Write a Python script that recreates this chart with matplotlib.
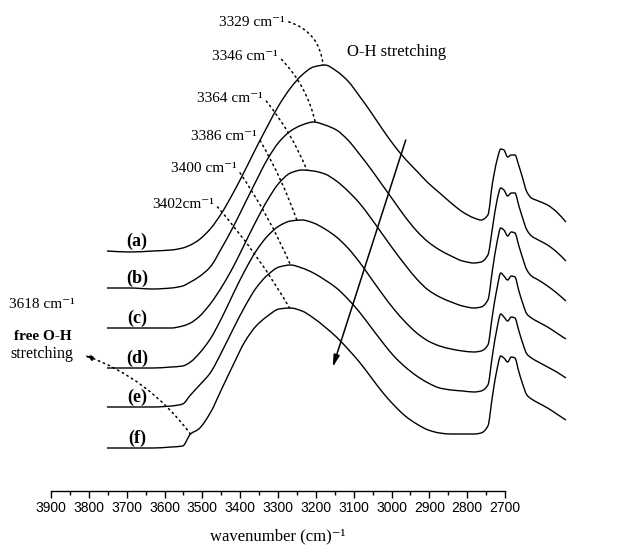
import matplotlib
matplotlib.use('Agg')
import matplotlib.pyplot as plt
from matplotlib.path import Path
from matplotlib.patches import PathPatch
from matplotlib.ticker import MultipleLocator
import numpy as np

plt.rcParams['font.family'] = ['Liberation Serif', 'DejaVu Serif']

# wavenumber grid (cm-1) and absorbance (relative to its own baseline)
wavenumber = [3800, 3750, 3700, 3660, 3635, 3618, 3600, 3575, 3550, 3525, 3500, 3475,
              3450, 3425, 3400, 3375, 3350, 3325, 3300, 3275, 3250, 3225, 3200, 3175,
              3150, 3125, 3100, 3075, 3050, 3025, 3000, 2985, 2970, 2960, 2950, 2942,
              2935, 2927, 2919, 2911, 2903, 2895, 2885, 2875, 2860, 2840, 2820, 2800]

abs_a = [0.00, -0.01, 0.00, 0.01, 0.03, 0.06, 0.11, 0.22, 0.38, 0.58, 0.80, 1.03,
         1.25, 1.46, 1.63, 1.76, 1.84, 1.86, 1.80, 1.70, 1.55, 1.39, 1.22, 1.06,
         0.92, 0.80, 0.68, 0.58, 0.48, 0.39, 0.33, 0.31, 0.36, 0.68, 0.91, 1.02,
         1.01, 0.94, 0.96, 0.96, 0.86, 0.74, 0.59, 0.53, 0.50, 0.46, 0.39, 0.29]
abs_b = [0.00, 0.00, -0.01, 0.00, 0.02, 0.06, 0.11, 0.21, 0.40, 0.61, 0.84, 1.07,
         1.29, 1.46, 1.57, 1.63, 1.66, 1.63, 1.58, 1.48, 1.34, 1.19, 1.03, 0.87,
         0.71, 0.57, 0.46, 0.38, 0.32, 0.27, 0.25, 0.26, 0.33, 0.60, 0.88, 1.00,
         0.98, 0.92, 0.95, 0.95, 0.83, 0.71, 0.58, 0.52, 0.48, 0.43, 0.36, 0.27]
abs_c = [0.00, 0.00, 0.00, 0.00, 0.02, 0.05, 0.11, 0.24, 0.41, 0.61, 0.84, 1.07,
         1.28, 1.45, 1.55, 1.58, 1.57, 1.54, 1.47, 1.37, 1.25, 1.10, 0.94, 0.78,
         0.63, 0.49, 0.38, 0.31, 0.26, 0.22, 0.20, 0.21, 0.28, 0.58, 0.86, 1.00,
         0.98, 0.92, 0.96, 0.95, 0.83, 0.71, 0.58, 0.52, 0.48, 0.42, 0.35, 0.27]
abs_d = [0.00, 0.00, 0.00, 0.01, 0.02, 0.06, 0.14, 0.29, 0.50, 0.74, 0.97, 1.17,
         1.32, 1.42, 1.47, 1.48, 1.45, 1.39, 1.31, 1.20, 1.06, 0.90, 0.74, 0.59,
         0.46, 0.35, 0.27, 0.22, 0.19, 0.17, 0.16, 0.17, 0.23, 0.53, 0.80, 0.95,
         0.92, 0.88, 0.92, 0.91, 0.78, 0.66, 0.54, 0.50, 0.46, 0.41, 0.35, 0.29]
abs_e = [0.00, 0.00, 0.00, 0.01, 0.03, 0.12, 0.21, 0.34, 0.55, 0.78, 1.00, 1.19,
         1.32, 1.40, 1.42, 1.39, 1.34, 1.27, 1.19, 1.08, 0.95, 0.80, 0.65, 0.51,
         0.40, 0.31, 0.24, 0.19, 0.17, 0.16, 0.15, 0.16, 0.22, 0.52, 0.79, 0.93,
         0.90, 0.86, 0.90, 0.89, 0.77, 0.65, 0.53, 0.49, 0.45, 0.40, 0.35, 0.29]
abs_f = [0.00, 0.00, 0.00, 0.01, 0.02, 0.14, 0.19, 0.35, 0.59, 0.83, 1.06, 1.22,
         1.32, 1.39, 1.40, 1.37, 1.30, 1.21, 1.11, 0.99, 0.86, 0.71, 0.56, 0.43,
         0.32, 0.24, 0.18, 0.15, 0.14, 0.14, 0.14, 0.15, 0.22, 0.52, 0.79, 0.92,
         0.90, 0.86, 0.91, 0.90, 0.77, 0.65, 0.53, 0.49, 0.45, 0.40, 0.34, 0.28]

spectra = [abs_a, abs_b, abs_c, abs_d, abs_e, abs_f]
offsets = [1.97, 1.60, 1.20, 0.80, 0.41, 0.0]
curve_labels = ['(a)', '(b)', '(c)', '(d)', '(e)', '(f)']

peak_wn = [3329, 3346, 3364, 3386, 3400, 3402]
peak_labels = ['3329 cm⁻¹', '3346 cm⁻¹', '3364 cm⁻¹', '3386 cm⁻¹', '3400 cm⁻¹', '3402cm⁻¹']
free_oh_wn = 3618

axis_ticks = list(range(3900, 2699, -100))


def smooth_path(x, y):
    # monotone cubic (Fritsch-Carlson) through the read points, drawn as bezier segments
    x = np.asarray(x, float)
    y = np.asarray(y, float)
    h = np.diff(x)
    d = np.diff(y) / h
    m = np.zeros_like(y)
    m[0], m[-1] = d[0], d[-1]
    for i in range(1, len(x) - 1):
        if d[i - 1] * d[i] > 0:
            w1 = 2 * h[i] + h[i - 1]
            w2 = h[i] + 2 * h[i - 1]
            m[i] = (w1 + w2) / (w1 / d[i - 1] + w2 / d[i])
    verts = [(x[0], y[0])]
    codes = [Path.MOVETO]
    for i in range(len(x) - 1):
        verts += [(x[i] + h[i] / 3, y[i] + m[i] * h[i] / 3),
                  (x[i + 1] - h[i] / 3, y[i + 1] - m[i + 1] * h[i] / 3),
                  (x[i + 1], y[i + 1])]
        codes += [Path.CURVE4] * 3
    return Path(verts, codes)


fig = plt.figure(figsize=(6.32, 5.58), dpi=100)

# spectra panel
ax = fig.add_axes([0, 0, 1, 1])
ax.set_xlim(4033, 2656)
ax.set_ylim(-1.10, 4.48)
ax.axis('off')

wn = np.array(wavenumber)
for vals, off, lab in zip(spectra, offsets, curve_labels):
    ax.add_patch(PathPatch(smooth_path(wn, np.array(vals) + off), fill=False,
                           edgecolor='black', lw=1.0))
    ax.text(3735, off + 0.10, lab, fontsize=13, fontweight='bold',
            ha='center', va='center')

# peak position leaders
label_pos = [(3556, 4.26), (3571, 3.91), (3604, 3.50), (3617, 3.12), (3661, 2.79), (3702, 2.44)]
rads = [-0.35, -0.15, -0.08, -0.05, -0.05, -0.05]
for i in range(6):
    ypk = offsets[i] + np.interp(peak_wn[i], wn[::-1], np.array(spectra[i])[::-1])
    ax.annotate(peak_labels[i], xy=(peak_wn[i], ypk), xytext=label_pos[i],
                ha='left', va='center', fontsize=11,
                arrowprops=dict(arrowstyle='-', linestyle=(0, (1, 2.5)), lw=1.1,
                                color='black', relpos=(1.0, 0.6), shrinkA=1, shrinkB=0,
                                connectionstyle='arc3,rad=%s' % rads[i]))

ax.text(3277, 3.96, 'O-H stretching', fontsize=12, ha='left', va='center')
ax.annotate('', xy=(3308, 0.81), xytext=(3149, 3.08),
            arrowprops=dict(arrowstyle='-|>,head_length=0.7,head_width=0.18',
                            lw=1.1, color='black', shrinkA=0, shrinkB=0))

# free O-H
y_free = np.interp(free_oh_wn, wn[::-1], np.array(abs_f)[::-1]) + offsets[5]
ax.text(3942, 1.43, '3618 cm⁻¹', fontsize=11, ha='center', va='center')
ax.text(3940, 1.12, 'free O-H', fontsize=11, fontweight='bold', ha='center', va='center')
ax.text(3942, 0.94, 'stretching', fontsize=11.5, ha='center', va='center')
ax.annotate('', xy=(3850, 0.93), xytext=(free_oh_wn, y_free),
            arrowprops=dict(arrowstyle='-|>,head_length=0.5,head_width=0.15',
                            linestyle=(0, (1, 2.5)), lw=1.1, color='black',
                            shrinkA=0, shrinkB=0, connectionstyle='arc3,rad=0.15'))

# wavenumber scale bar
ax2 = fig.add_axes([51 / 632, (558 - 491) / 558, 454 / 632, 0.001])
ax2.set_xlim(3900, 2700)
ax2.patch.set_visible(False)
for s in ['top', 'left', 'right']:
    ax2.spines[s].set_visible(False)
ax2.spines['bottom'].set_linewidth(1.0)
ax2.set_yticks([])
ax2.set_xticks(axis_ticks)
ax2.xaxis.set_minor_locator(MultipleLocator(50))
ax2.tick_params(axis='x', which='major', direction='out', length=5, width=1.0, pad=2,
                labelsize=10, labelfontfamily='Liberation Sans')
ax2.tick_params(axis='x', which='minor', direction='out', length=3, width=1.0)

fig.text(278 / 632, 1 - 536 / 558, 'wavenumber (cm)⁻¹', fontsize=12,
         ha='center', va='center')

fig.savefig('out.png', dpi=100)
